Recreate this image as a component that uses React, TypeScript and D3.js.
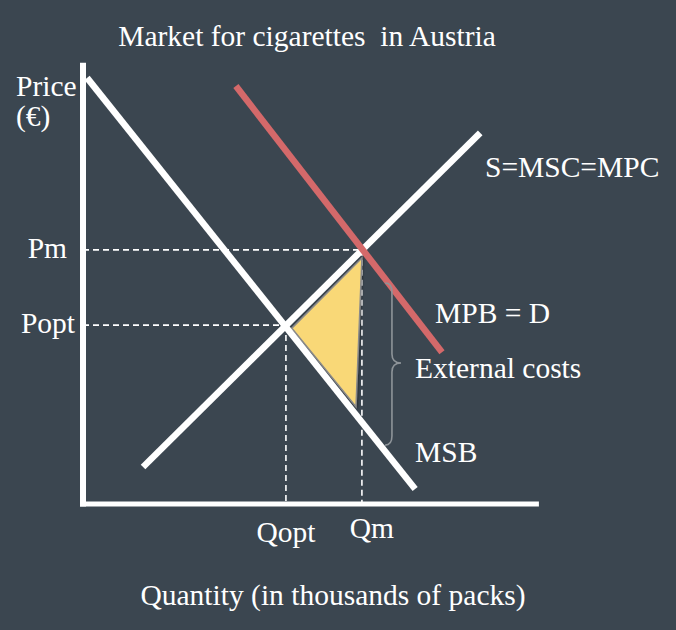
import React from "react";
import * as d3 from "d3";

const W = 676;
const H = 630;

// Curves (quantity, price) in chart units 0..100
const msbCurve: [number, number][] = [[0.9, 99.1], [73.0, 3.5]];
const supplyCurve: [number, number][] = [[13.2, 8.6], [87.3, 86.3]];
const mpbCurve: [number, number][] = [[33.6, 97.2], [78.9, 35.3]];

// Equilibria
const qOpt = 44.6;
const pOpt = 41.6;
const qM = 61.3;
const pM = 59.1;

// Deadweight-loss triangle
const dwlTriangle: [number, number][] = [[61.3, 57.2], [45.9, 40.9], [60.0, 22.6]];

// External-cost brace: [xLeft, xMid, xTip], [yTop, yMid, yBottom]
const braceX = [66.4, 67.9, 69.9];
const braceY = [51.4, 32.8, 13.7];

const axisYTop = 102.6;
const axisXRight = 100.2;

const title = "Market for cigarettes  in Austria";
const yLabel = ["Price", "(€)"];
const xLabel = "Quantity (in thousands of packs)";
const curveLabels = [
  { text: "S=MSC=MPC", x: 485, y: 177 },
  { text: "MPB = D", x: 435, y: 323 },
  { text: "External costs", x: 415, y: 378 },
  { text: "MSB", x: 415, y: 462 },
];

export default function App() {
  const x = d3.scaleLinear().domain([0, 100]).range([83, 538]);
  const y = d3.scaleLinear().domain([0, 100]).range([504, 74]);
  const line = d3
    .line<[number, number]>()
    .x((d) => x(d[0]))
    .y((d) => y(d[1]));

  const bx = braceX.map(x);
  const by = braceY.map(y);
  const r = 9;
  const bracePath = [
    `M${bx[0]},${by[0]}`,
    `Q${bx[1]},${by[0]} ${bx[1]},${by[0] + r}`,
    `L${bx[1]},${by[1] - r}`,
    `Q${bx[1]},${by[1]} ${bx[2]},${by[1]}`,
    `Q${bx[1]},${by[1]} ${bx[1]},${by[1] + r}`,
    `L${bx[1]},${by[2] - r}`,
    `Q${bx[1]},${by[2]} ${bx[0]},${by[2]}`,
  ].join(" ");

  const font = "'Liberation Serif', 'Times New Roman', serif";
  const fs = 29.5;
  const textStyle = { fontFamily: font, fontSize: fs, fill: "#ffffff", whiteSpace: "pre" } as const;
  const dash = { stroke: "#ffffff", strokeWidth: 1.6, strokeDasharray: "6 4", fill: "none" } as const;

  return (
    <svg
      width={W}
      height={H}
      style={{ position: "absolute", left: 0, top: 0, background: "#3b4650" }}
    >
      <rect x={0} y={0} width={W} height={H} fill="#3b4650" />
      <defs>
        <filter id="sh" x="-10%" y="-10%" width="120%" height="120%">
          <feDropShadow dx="0.5" dy="0.8" stdDeviation="0.8" floodColor="#000" floodOpacity="0.5" />
        </filter>
      </defs>

      {/* dashed guides */}
      <line x1={x(0)} x2={x(qM)} y1={y(pM)} y2={y(pM)} {...dash} />
      <line x1={x(0)} x2={x(qOpt)} y1={y(pOpt)} y2={y(pOpt)} {...dash} />
      <line x1={x(qOpt)} x2={x(qOpt)} y1={y(pOpt)} y2={y(0)} {...dash} />
      <line x1={x(qM)} x2={x(qM)} y1={y(pM)} y2={y(0)} {...dash} />

      {/* triangle */}
      <path
        d={line(dwlTriangle)! + "Z"}
        fill="#f9d877"
        stroke="#8a8a8a"
        strokeWidth={1.5}
        filter="url(#sh)"
      />

      {/* curves */}
      <path d={line(msbCurve)!} stroke="#ffffff" strokeWidth={6.5} fill="none" />
      <path d={line(supplyCurve)!} stroke="#ffffff" strokeWidth={6.5} fill="none" />
      <path d={line(mpbCurve)!} stroke="#d4696a" strokeWidth={6.5} fill="none" />

      {/* brace */}
      <path d={bracePath} stroke="#8e9499" strokeWidth={1.6} fill="none" />

      {/* axes */}
      <line x1={x(0)} x2={x(0)} y1={y(axisYTop)} y2={y(0) + 2.5} stroke="#ffffff" strokeWidth={6} />
      <line x1={x(0) - 3} x2={x(axisXRight)} y1={y(0)} y2={y(0)} stroke="#ffffff" strokeWidth={5} />

      {/* texts */}
      <text x={307} y={46} textAnchor="middle" xmlSpace="preserve" style={textStyle}>{title}</text>
      <text x={16} y={96} style={textStyle}>{yLabel[0]}</text>
      <text x={16} y={126} style={textStyle}>{yLabel[1]}</text>
      <text x={67} y={y(pM) + 8} textAnchor="end" style={textStyle}>Pm</text>
      <text x={75} y={y(pOpt) + 8} textAnchor="end" style={textStyle}>Popt</text>
      <text x={x(qOpt)} y={542} textAnchor="middle" style={textStyle}>Qopt</text>
      <text x={x(qM) + 10} y={538} textAnchor="middle" style={textStyle}>Qm</text>
      {curveLabels.map((l) => (
        <text key={l.text} x={l.x} y={l.y} style={textStyle}>{l.text}</text>
      ))}
      <text x={333} y={605} textAnchor="middle" style={textStyle}>{xLabel}</text>
    </svg>
  );
}
